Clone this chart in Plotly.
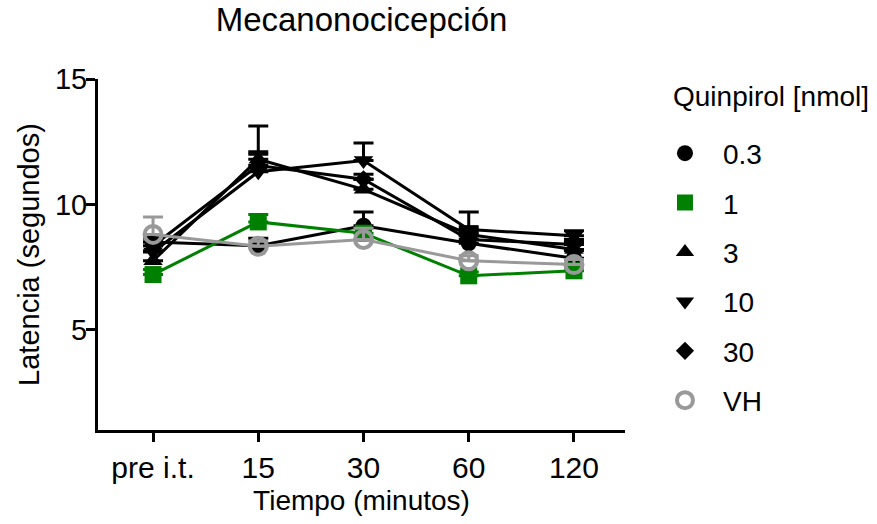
import plotly.graph_objects as go

# ---- data ----
tiempo = ["pre i.t.", "15", "30", "60", "120"]
series_names = ["0.3", "1", "3", "10", "30", "VH"]

q03 = [8.5, 8.35, 9.15, 8.45, 7.85]
q03_err = [0.3, 0.3, 0.55, 0.3, 0.3]
q1 = [7.2, 9.3, 8.85, 7.15, 7.35]
q1_err = [0.2, 0.3, 0.2, 0.15, 0.15]
q3 = [7.75, 11.8, 10.6, 8.8, 8.2]
q3_err = [0.4, 0.3, 0.4, 0.3, 0.3]
q10 = [8.1, 11.3, 11.75, 9.0, 8.75]
q10_err = [0.4, 1.83, 0.7, 0.7, 0.2]
q30 = [8.35, 11.55, 11.0, 8.6, 8.4]
q30_err = [0.3, 0.45, 0.2, 0.3, 0.2]
vh = [8.8, 8.33, 8.6, 7.75, 7.6]
vh_err = [0.7, 0.2, 0.45, 0.2, 0.2]

values = [q03, q1, q3, q10, q30, vh]
errors = [q03_err, q1_err, q3_err, q10_err, q30_err, vh_err]

legend_title = "Quinpirol [nmol]"

# ---- styles ----
colors = ["#000000", "#008000", "#000000", "#000000", "#000000", "#999999"]
symbols = ["circle", "square", "triangle-up", "triangle-down", "diamond", "circle-open"]
sizes = [16, 17, 17, 17, 14, 17]

FONT = "Liberation Sans, Arial, Helvetica, sans-serif"

fig = go.Figure()
for name, v, e, c, s, sz in zip(series_names, values, errors, colors, symbols, sizes):
    fig.add_trace(go.Scatter(
        x=tiempo, y=v, mode="lines", line=dict(color=c, width=3),
        showlegend=False, legendgroup=name, hoverinfo="skip"))
    fig.add_trace(go.Scatter(
        x=tiempo, y=v, mode="markers", name=name, legendgroup=name,
        marker=dict(symbol=s, size=sz, color=c,
                    line=dict(width=4 if s == "circle-open" else 0, color=c)),
        error_y=dict(type="data", array=e, arrayminus=[0] * len(e), symmetric=False,
                     color=c, thickness=3, width=10)))

fig.update_layout(
    width=877, height=524,
    margin=dict(l=98, r=252, t=79, b=92),
    paper_bgcolor="white", plot_bgcolor="white",
    font=dict(family=FONT, size=28, color="#000000"),
    title=dict(text="Mecanonocicepción", x=0.5, xref="paper", xanchor="center",
               y=0.962, yref="container", yanchor="middle",
               font=dict(size=33)),
    legend=dict(x=1.0417, xanchor="left", y=0.859, yanchor="top",
                font=dict(size=28), tracegroupgap=10, itemwidth=66,
                bgcolor="rgba(0,0,0,0)"),
    annotations=[dict(text=legend_title, xref="paper", yref="paper",
                      x=1.088, y=0.95, xanchor="left", yanchor="middle",
                      showarrow=False, font=dict(size=28))],
)
fig.update_xaxes(
    type="category", range=[-0.523, 4.485],
    showline=True, linecolor="black", linewidth=3,
    ticks="outside", ticklen=9, tickwidth=3, tickcolor="black",
    tickfont=dict(size=30),
    showgrid=False, zeroline=False,
    title=dict(text="Tiempo (minutos)", standoff=8, font=dict(size=28)),
)
fig.update_yaxes(
    range=[1, 15], tickvals=[5, 10, 15],
    showline=True, linecolor="black", linewidth=3,
    ticks="outside", ticklen=9, tickwidth=3, tickcolor="black",
    tickfont=dict(size=29),
    showgrid=False, zeroline=False,
    title=dict(text="Latencia (segundos)", standoff=7, font=dict(size=29)),
)
try:
    fig.update_yaxes(ticklabelstandoff=-7)
except ValueError:
    pass

fig.write_html("out.html")
